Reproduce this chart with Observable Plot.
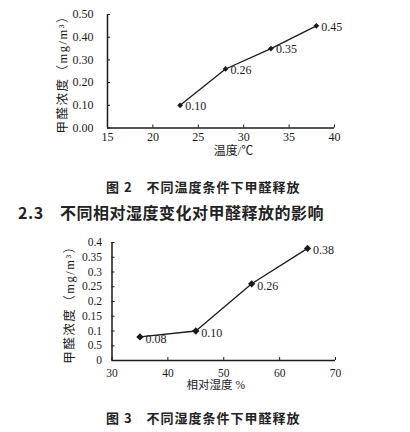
<!DOCTYPE html>
<html>
<head>
<meta charset="utf-8">
<script src="https://cdn.jsdelivr.net/npm/d3@7"></script>
<script src="https://cdn.jsdelivr.net/npm/@observablehq/plot@0.6"></script>
<style>
  html, body { margin: 0; padding: 0; background: #fff; }
  #page { position: relative; width: 410px; height: 432px; background: #fff; overflow: hidden; }
  .abs { position: absolute; }
  .cap { font-family: "Noto Sans CJK SC", sans-serif; font-weight: 700; color: #222; white-space: pre; }
  svg text { font-family: "Liberation Serif", "Times New Roman", "Noto Sans CJK SC", serif !important; }
</style>
</head>
<body>
<div id="page">
  <div id="chart1" class="abs" style="left:0;top:0;"></div>
  <div class="abs cap" id="cap1" style="left:106px;top:180px;font-size:13px;line-height:14px;letter-spacing:1px;"></div>
  <div class="abs cap" id="head" style="left:18px;top:203px;font-size:16px;line-height:18px;letter-spacing:0.5px;"></div>
  <div id="chart2" class="abs" style="left:0;top:225px;"></div>
  <div class="abs cap" id="cap2" style="left:106px;top:411px;font-size:13px;line-height:14px;letter-spacing:1px;"></div>
</div>
<script>
// ---- Figure 2: temperature ----
const tempX = [23, 28, 33, 38];
const tempY = [0.10, 0.26, 0.35, 0.45];
const tempLabels = ["0.10", "0.26", "0.35", "0.45"];
const tempXTicks = [15, 20, 25, 30, 35, 40];
const tempYTicks = [0, 0.1, 0.2, 0.3, 0.4, 0.5];
const tempYTickLabels = ["0.00", "0.10", "0.20", "0.30", "0.40", "0.50"];
const tempXLabel = "温度/℃";
const tempYLabel = "甲醛浓度（mg/m³）";

// ---- Figure 3: relative humidity ----
const humX = [35, 45, 55, 65];
const humY = [0.08, 0.10, 0.26, 0.38];
const humLabels = ["0.08", "0.10", "0.26", "0.38"];
const humXTicks = [30, 40, 50, 60, 70];
const humYTicks = [0, 0.05, 0.1, 0.15, 0.2, 0.25, 0.3, 0.35, 0.4];
const humYTickLabels = ["0", "0.5", "0.1", "0.15", "0.2", "0.25", "0.3", "0.35", "0.4"];
const humXLabel = "相对湿度 %";
const humYLabel = "甲醛浓度（mg/m³）";

const caption1 = "图 2　不同温度条件下甲醛释放";
const heading = "2.3　不同相对湿度变化对甲醛释放的影响";
const caption2 = "图 3　不同湿度条件下甲醛释放";

const tempData = tempX.map((x, i) => ({x, y: tempY[i], label: tempLabels[i]}));
const humData = humX.map((x, i) => ({x, y: humY[i], label: humLabels[i]}));

const ink = "#1a1a1a";
const fontStack = "'Liberation Serif', 'Times New Roman', 'Noto Sans CJK SC', serif";

const chart1 = Plot.plot({
  width: 410, height: 165,
  marginLeft: 107, marginRight: 76, marginTop: 14, marginBottom: 37.5,
  x: {domain: [15, 40]},
  y: {domain: [0, 0.5]},
  style: {fontFamily: fontStack, fontSize: "12px", color: ink, background: "transparent"},
  marks: [
    Plot.axisY(tempYTicks, {tickSize: -3, tickPadding: 17, label: null,
      tickFormat: d => tempYTickLabels[tempYTicks.indexOf(d)]}),
    Plot.axisX(tempXTicks, {tickSize: -3, tickPadding: 7, label: null, tickFormat: d => String(d)}),
    Plot.ruleX([15], {stroke: ink, strokeWidth: 1.5}),
    Plot.ruleY([0], {stroke: ink, strokeWidth: 1.5}),
    Plot.line(tempData, {x: "x", y: "y", stroke: ink, strokeWidth: 1.3}),
    Plot.dot(tempData, {x: "x", y: "y", symbol: "diamond2", r: 2.6, fill: ink, stroke: null}),
    Plot.text(tempData, {x: "x", y: "y", text: "label", textAnchor: "start", dx: 5, dy: 1, fontSize: 12, fill: ink}),
    Plot.text([tempXLabel], {frameAnchor: "bottom", textAnchor: "middle", dx: 12.5, dy: 26.5, fontSize: 12, fill: ink}),
    Plot.text([tempYLabel], {frameAnchor: "left", textAnchor: "middle", rotate: -90, dx: -45, dy: 0, fontSize: 12.5, fill: ink})
  ]
});
document.getElementById("chart1").appendChild(chart1);

const chart2 = Plot.plot({
  width: 410, height: 178,
  marginLeft: 111.5, marginRight: 75, marginTop: 17, marginBottom: 43,
  x: {domain: [30, 70]},
  y: {domain: [0, 0.4]},
  style: {fontFamily: fontStack, fontSize: "11.5px", color: ink, background: "transparent"},
  marks: [
    Plot.axisY(humYTicks, {tickSize: -3, tickPadding: 13, label: null,
      tickFormat: d => humYTickLabels[humYTicks.indexOf(d)]}),
    Plot.axisX(humXTicks, {tickSize: -3, tickPadding: 11, label: null, tickFormat: d => String(d)}),
    Plot.ruleX([30], {stroke: ink, strokeWidth: 1.5}),
    Plot.ruleY([0], {stroke: ink, strokeWidth: 1.5}),
    Plot.line(humData, {x: "x", y: "y", stroke: ink, strokeWidth: 1.3}),
    Plot.dot(humData, {x: "x", y: "y", symbol: "diamond2", r: 3.3, fill: ink, stroke: null}),
    Plot.text(humData, {x: "x", y: "y", text: "label", textAnchor: "start", dx: 5.5, dy: 2, fontSize: 12, fill: ink}),
    Plot.text([humXLabel], {frameAnchor: "bottom", textAnchor: "middle", dx: -8, dy: 28, fontSize: 11.5, fill: ink}),
    Plot.text([humYLabel], {frameAnchor: "left", textAnchor: "middle", rotate: -90, dx: -42.5, dy: 0, fontSize: 12.5, fill: ink})
  ]
});
document.getElementById("chart2").appendChild(chart2);

// widen the letter spacing of the rotated y-axis titles, as in the print
[[chart1, tempYLabel], [chart2, humYLabel]].forEach(([svg, lab]) => {
  d3.select(svg).selectAll("text")
    .filter(function () { return this.textContent === lab; })
    .attr("letter-spacing", "1.5px");
});

document.getElementById("cap1").textContent = caption1;
document.getElementById("head").textContent = heading;
document.getElementById("cap2").textContent = caption2;
</script>
</body>
</html>
